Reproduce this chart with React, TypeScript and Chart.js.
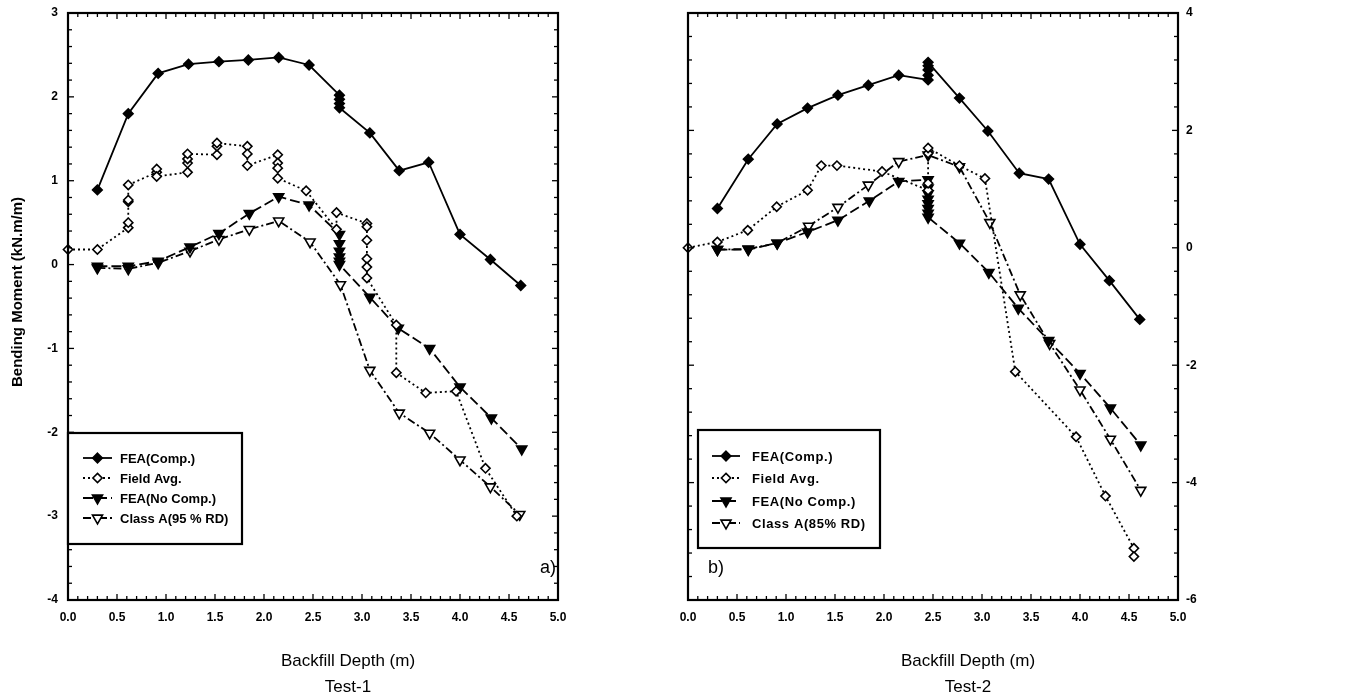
import React, { useEffect, useRef } from 'react';
import { Chart, registerables } from 'chart.js';

Chart.register(...registerables);

// ---------------- DATA ----------------
// Test-1 (panel a)
const t1CompX = [0.30, 0.615, 0.92, 1.23, 1.54, 1.84, 2.15, 2.46, 2.77, 2.77, 2.77, 2.77, 3.08, 3.38, 3.68, 4.00, 4.31, 4.62];
const t1CompY = [0.89, 1.80, 2.28, 2.39, 2.42, 2.44, 2.47, 2.38, 2.02, 1.97, 1.92, 1.87, 1.57, 1.12, 1.22, 0.36, 0.06, -0.25];

const t1FieldX = [0, 0.30, 0.615, 0.615, 0.615, 0.615, 0.615, 0.905, 0.905, 0.905, 1.22, 1.22, 1.22, 1.22, 1.52, 1.52, 1.52, 1.83, 1.83, 1.83, 2.14, 2.14, 2.14, 2.14, 2.43, 2.74, 2.74, 3.05, 3.05, 3.05, 3.05, 3.05, 3.05, 3.35, 3.35, 3.65, 3.96, 4.26, 4.58];
const t1FieldY = [0.18, 0.18, 0.44, 0.50, 0.75, 0.77, 0.95, 1.10, 1.14, 1.05, 1.10, 1.21, 1.26, 1.32, 1.31, 1.41, 1.45, 1.41, 1.32, 1.18, 1.31, 1.21, 1.15, 1.03, 0.88, 0.42, 0.62, 0.49, 0.45, 0.29, 0.07, -0.03, -0.16, -0.72, -1.29, -1.53, -1.51, -2.43, -3.00];

const t1NoCompX = [0.30, 0.615, 0.92, 1.245, 1.54, 1.85, 2.15, 2.46, 2.77, 2.77, 2.77, 2.77, 2.77, 2.77, 3.08, 3.37, 3.69, 4.00, 4.32, 4.63];
const t1NoCompY = [-0.02, -0.02, 0.04, 0.21, 0.37, 0.61, 0.81, 0.71, 0.36, 0.25, 0.16, 0.09, 0.04, 0.00, -0.39, -0.76, -1.00, -1.46, -1.83, -2.20];

const t1ClassX = [0.30, 0.615, 0.92, 1.245, 1.54, 1.85, 2.15, 2.47, 2.78, 3.08, 3.38, 3.69, 4.00, 4.31, 4.61];
const t1ClassY = [-0.04, -0.05, 0.02, 0.16, 0.30, 0.42, 0.52, 0.27, -0.24, -1.26, -1.77, -2.01, -2.33, -2.65, -2.98];

// Test-2 (panel b)
const t2CompX = [0.30, 0.615, 0.91, 1.22, 1.53, 1.84, 2.15, 2.45, 2.45, 2.45, 2.45, 2.45, 2.77, 3.06, 3.38, 3.68, 4.00, 4.30, 4.61];
const t2CompY = [0.67, 1.51, 2.11, 2.38, 2.60, 2.77, 2.94, 2.86, 2.94, 3.03, 3.10, 3.16, 2.55, 1.99, 1.27, 1.17, 0.06, -0.56, -1.22];

const t2FieldX = [0, 0.30, 0.61, 0.905, 1.22, 1.36, 1.52, 1.98, 2.45, 2.45, 2.45, 2.45, 2.77, 3.03, 3.34, 3.96, 4.26, 4.55, 4.55];
const t2FieldY = [0.00, 0.10, 0.30, 0.70, 0.98, 1.40, 1.40, 1.30, 0.98, 1.10, 1.61, 1.70, 1.40, 1.18, -2.11, -3.22, -4.23, -5.12, -5.26];

const t2NoCompX = [0.30, 0.615, 0.91, 1.22, 1.53, 1.85, 2.15, 2.45, 2.45, 2.45, 2.45, 2.45, 2.45, 2.45, 2.45, 2.77, 3.07, 3.37, 3.68, 4.00, 4.31, 4.62];
const t2NoCompY = [-0.03, -0.03, 0.08, 0.27, 0.47, 0.80, 1.13, 1.16, 1.02, 0.92, 0.83, 0.75, 0.67, 0.59, 0.52, 0.08, -0.42, -1.03, -1.58, -2.14, -2.73, -3.36];

const t2ClassX = [0.30, 0.615, 0.91, 1.23, 1.53, 1.84, 2.15, 2.45, 2.77, 3.08, 3.39, 3.69, 4.00, 4.31, 4.62];
const t2ClassY = [-0.03, -0.02, 0.08, 0.37, 0.69, 1.07, 1.47, 1.58, 1.38, 0.43, -0.80, -1.63, -2.42, -3.26, -4.13];

// Labels
const t1SeriesLabels = ['FEA(Comp.)', 'Field Avg.', 'FEA(No Comp.)', 'Class A(95 % RD)'];
const t2SeriesLabels = ['FEA(Comp.)', 'Field Avg.', 'FEA(No Comp.)', 'Class A(85% RD)'];
const xTickLabels = ['0.0', '0.5', '1.0', '1.5', '2.0', '2.5', '3.0', '3.5', '4.0', '4.5', '5.0'];
const t1YTickLabels = ['-4', '-3', '-2', '-1', '0', '1', '2', '3'];
const t2YTickLabels = ['-6', '-4', '-2', '0', '2', '4'];
const xTitle = 'Backfill Depth (m)';
const yTitle = 'Bending Moment (kN.m/m)';
const t1Caption = 'Test-1';
const t2Caption = 'Test-2';

// ---------------- STYLE ----------------
const FONT = "'Liberation Sans', Arial, Helvetica, sans-serif";
const SERIES_STYLE = [
  { dash: [] as number[], point: 'rectRot', radius: 4.8, rotation: 0, filled: true, width: 1.8 },
  { dash: [2, 3], point: 'rectRot', radius: 4.6, rotation: 0, filled: false, width: 1.8 },
  { dash: [10, 4], point: 'triangle', radius: 5.8, rotation: 180, filled: true, width: 1.8 },
  { dash: [8, 3, 2, 3], point: 'triangle', radius: 5.8, rotation: 180, filled: false, width: 1.8 },
];

function zip(xs: number[], ys: number[]) {
  return xs.map((x, i) => ({ x, y: ys[i] }));
}

function drawMarker(ctx: CanvasRenderingContext2D, st: any, x: number, y: number) {
  ctx.save();
  ctx.setLineDash([]);
  ctx.beginPath();
  const r = st.radius;
  if (st.point === 'rectRot') {
    ctx.moveTo(x, y - r);
    ctx.lineTo(x + r, y);
    ctx.lineTo(x, y + r);
    ctx.lineTo(x - r, y);
  } else {
    let rad = (st.rotation * Math.PI) / 180;
    ctx.moveTo(x + Math.sin(rad) * r, y - Math.cos(rad) * r);
    rad += (2 * Math.PI) / 3;
    ctx.lineTo(x + Math.sin(rad) * r, y - Math.cos(rad) * r);
    rad += (2 * Math.PI) / 3;
    ctx.lineTo(x + Math.sin(rad) * r, y - Math.cos(rad) * r);
  }
  ctx.closePath();
  ctx.fillStyle = st.filled ? '#000' : '#fff';
  ctx.fill();
  ctx.lineWidth = 1.6;
  ctx.strokeStyle = '#000';
  ctx.stroke();
  ctx.restore();
}

const decorPlugin = {
  id: 'decor',
  afterDraw(chart: any, _args: any, opts: any) {
    const { ctx, chartArea: a, scales } = chart;
    const xs = scales.x;
    const ys = scales.y;
    ctx.save();
    ctx.strokeStyle = '#000';
    ctx.lineWidth = 1.3;
    const seg = (x1: number, y1: number, x2: number, y2: number) => {
      ctx.beginPath();
      ctx.moveTo(x1, y1);
      ctx.lineTo(x2, y2);
      ctx.stroke();
    };
    // x ticks (inward, top and bottom)
    for (let i = 0; i <= 50; i++) {
      const px = xs.getPixelForValue(i / 10);
      const len = i % 5 === 0 ? 6 : 4;
      seg(px, a.bottom, px, a.bottom - len);
      seg(px, a.top, px, a.top + len);
    }
    // y ticks (inward, left and right)
    const n = Math.round((opts.yMax - opts.yMin) / opts.yMinor);
    for (let i = 0; i <= n; i++) {
      const v = opts.yMin + i * opts.yMinor;
      const py = ys.getPixelForValue(v);
      const q = v / opts.yMajor;
      const major = Math.abs(q - Math.round(q)) < 1e-6;
      const len = major ? 6 : 4;
      seg(a.left, py, a.left + len, py);
      seg(a.right, py, a.right - len, py);
    }
    // frame
    ctx.lineWidth = 2.2;
    ctx.strokeRect(a.left, a.top, a.right - a.left, a.bottom - a.top);

    // legend
    const lg = opts.legend;
    ctx.fillStyle = '#fff';
    ctx.fillRect(lg.x, lg.y, lg.w, lg.h);
    ctx.lineWidth = 2.2;
    ctx.strokeRect(lg.x, lg.y, lg.w, lg.h);
    ctx.font = `bold 13px ${FONT}`;
    ctx.textBaseline = 'middle';
    ctx.textAlign = 'left';
    (ctx as any).letterSpacing = lg.spacing;
    lg.rows.forEach((ry: number, i: number) => {
      const st = SERIES_STYLE[i];
      ctx.save();
      ctx.lineWidth = st.width;
      ctx.setLineDash(st.dash);
      seg(lg.sx1, ry, lg.sx2, ry);
      ctx.restore();
      drawMarker(ctx, st, (lg.sx1 + lg.sx2) / 2, ry);
      ctx.fillStyle = '#000';
      ctx.fillText(opts.labels[i], lg.tx, ry + 1);
    });
    (ctx as any).letterSpacing = '0px';

    // panel tag
    ctx.fillStyle = '#000';
    ctx.font = `18px ${FONT}`;
    ctx.textAlign = 'left';
    ctx.textBaseline = 'middle';
    ctx.fillText(opts.tag, opts.tagX, opts.tagY);

    // x titles
    const cx = (a.left + a.right) / 2 + 35;
    ctx.font = `17px ${FONT}`;
    ctx.textAlign = 'center';
    ctx.fillText(xTitle, cx, 661);
    ctx.fillText(opts.caption, cx, 687);

    // y title
    if (opts.showYTitle) {
      ctx.save();
      ctx.translate(18, 292);
      ctx.rotate(-Math.PI / 2);
      ctx.font = `bold 15px ${FONT}`;
      ctx.textAlign = 'center';
      ctx.textBaseline = 'middle';
      ctx.fillText(yTitle, 0, 0);
      ctx.restore();
    }
    ctx.restore();
  },
};

function makeDatasets(series: { x: number; y: number }[][], labels: string[]) {
  return series.map((pts, i) => {
    const st = SERIES_STYLE[i];
    return {
      label: labels[i],
      data: pts,
      borderColor: '#000',
      borderWidth: st.width,
      borderDash: st.dash,
      pointStyle: st.point,
      pointRadius: st.radius,
      pointRotation: st.rotation,
      pointBackgroundColor: st.filled ? '#000' : '#fff',
      pointBorderColor: '#000',
      pointBorderWidth: 1.6,
      fill: false,
      tension: 0,
      clip: 12,
    };
  });
}

type PanelProps = {
  width: number;
  left: number;
  series: { x: number; y: number }[][];
  labels: string[];
  yMin: number;
  yMax: number;
  yStep: number;
  yMinor: number;
  yTicks: string[];
  yPos: 'left' | 'right';
  yWidth: number;
  padL: number;
  padR: number;
  yPad: number;
  legend: any;
  tag: string;
  tagX: number;
  caption: string;
  showYTitle: boolean;
};

function Panel(p: PanelProps) {
  const ref = useRef<HTMLCanvasElement | null>(null);
  useEffect(() => {
    if (!ref.current) return;
    const chart = new Chart(ref.current, {
      type: 'line',
      data: { datasets: makeDatasets(p.series, p.labels) as any },
      plugins: [decorPlugin],
      options: {
        animation: false,
        responsive: false,
        devicePixelRatio: 1,
        layout: { padding: { left: p.padL, right: p.padR, top: 13, bottom: 0 } },
        scales: {
          x: {
            type: 'linear',
            min: 0,
            max: 5,
            grid: { display: false, drawTicks: false },
            border: { display: false },
            ticks: {
              stepSize: 0.5,
              padding: 10,
              color: '#000',
              font: { family: FONT, size: 12, weight: 'bold' },
              maxRotation: 0,
              autoSkip: false,
              callback: (_v: any, i: number) => xTickLabels[i],
            },
            afterFit: (s: any) => {
              s.height = 98;
              s.paddingLeft = 0;
              s.paddingRight = 0;
              s.paddingTop = 0;
              s.paddingBottom = 0;
            },
          },
          y: {
            type: 'linear',
            position: p.yPos,
            min: p.yMin,
            max: p.yMax,
            grid: { display: false, drawTicks: false },
            border: { display: false },
            ticks: {
              stepSize: p.yStep,
              padding: p.yPad,
              color: '#000',
              font: { family: FONT, size: 12, weight: 'bold' },
              autoSkip: false,
              callback: (_v: any, i: number) => p.yTicks[i],
            },
            afterFit: (s: any) => {
              s.width = p.yWidth;
              s.paddingLeft = 0;
              s.paddingRight = 0;
              s.paddingTop = 0;
              s.paddingBottom = 0;
            },
          },
        },
        plugins: {
          legend: { display: false },
          title: { display: false },
          tooltip: { enabled: false },
          decor: {
            yMin: p.yMin,
            yMax: p.yMax,
            yMinor: p.yMinor,
            yMajor: p.yStep,
            legend: p.legend,
            labels: p.labels,
            tag: p.tag,
            tagX: p.tagX,
            tagY: 568,
            caption: p.caption,
            showYTitle: p.showYTitle,
          },
        } as any,
      } as any,
    });
    return () => chart.destroy();
  }, []);
  return (
    <canvas
      ref={ref}
      width={p.width}
      height={698}
      style={{ position: 'absolute', left: p.left, top: 0, width: p.width, height: 698 }}
    />
  );
}

export default function App() {
  return (
    <div style={{ position: 'absolute', left: 0, top: 0, width: 1347, height: 698, background: '#fff', overflow: 'hidden' }}>
      <Panel
        width={680}
        left={0}
        series={[zip(t1CompX, t1CompY), zip(t1FieldX, t1FieldY), zip(t1NoCompX, t1NoCompY), zip(t1ClassX, t1ClassY)]}
        labels={t1SeriesLabels}
        yMin={-4}
        yMax={3}
        yStep={1}
        yMinor={0.2}
        yTicks={t1YTickLabels}
        yPos="left"
        yWidth={68}
        padL={0}
        padR={122}
        yPad={10}
        legend={{ x: 68, y: 433, w: 174, h: 111, sx1: 83, sx2: 112, tx: 120, rows: [458, 478, 498, 518], spacing: '0px' }}
        tag="a)"
        tagX={540}
        caption={t1Caption}
        showYTitle={true}
      />
      <Panel
        width={667}
        left={680}
        series={[zip(t2CompX, t2CompY), zip(t2FieldX, t2FieldY), zip(t2NoCompX, t2NoCompY), zip(t2ClassX, t2ClassY)]}
        labels={t2SeriesLabels}
        yMin={-6}
        yMax={4}
        yStep={2}
        yMinor={0.4}
        yTicks={t2YTickLabels}
        yPos="right"
        yWidth={169}
        padL={8}
        padR={0}
        yPad={8}
        legend={{ x: 18, y: 430, w: 182, h: 118, sx1: 32, sx2: 60, tx: 72, rows: [456, 478, 501, 523], spacing: '0.6px' }}
        tag="b)"
        tagX={28}
        caption={t2Caption}
        showYTitle={false}
      />
    </div>
  );
}
